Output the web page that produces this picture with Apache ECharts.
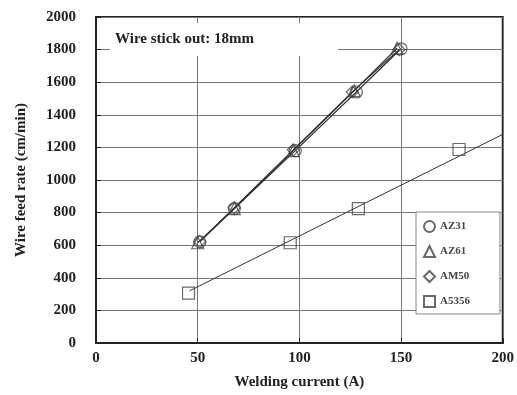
<!DOCTYPE html>
<html>
<head>
<meta charset="utf-8">
<script src="https://cdn.jsdelivr.net/npm/echarts@6/dist/echarts.min.js"></script>
<style>html,body{margin:0;padding:0;background:#fff}#c{width:517px;height:395px}</style>
</head>
<body>
<div id="c"></div>
<script>
// Data (Welding current A, Wire feed rate cm/min)
var seriesNames = ['AZ31', 'AZ61', 'AM50', 'A5356'];
var az31 = [[51, 620], [68, 825], [98, 1180], [128, 1540], [150, 1805]];
var az61 = [[50, 615], [68, 825], [97, 1180], [127, 1548], [148, 1808]];
var am50 = [[51, 622], [68, 830], [97, 1185], [126, 1540], [149, 1800]];
var a5356 = [[45.5, 306], [95.5, 615], [129, 825], [178.5, 1187]];
var a5356TrendX = [46, 200];
var a5356TrendY = [320, 1280];
var xTicks = [0, 50, 100, 150, 200];
var yTicks = [0, 200, 400, 600, 800, 1000, 1200, 1400, 1600, 1800, 2000];
var noteText = 'Wire stick out: 18mm';

var serif = 'Liberation Serif, DejaVu Serif, serif';
var ink = '#222';
var markerStyle = { color: 'transparent', borderColor: '#444', borderWidth: 1.2 };

function trend(xs, ys) { return xs.map(function (x, i) { return [x, ys[i]]; }); }

function lineSeries(data) {
  return { type: 'line', data: data, showSymbol: false, silent: true, z: 2,
    lineStyle: { color: '#333', width: 1.2 } };
}
function scatterSeries(name, data, symbol) {
  return { type: 'scatter', name: name, data: data, symbol: symbol, symbolSize: 12, z: 3,
    itemStyle: markerStyle };
}

var chart = echarts.init(document.getElementById('c'), null, { renderer: 'canvas' });
chart.setOption({
  animation: false,
  backgroundColor: '#fff',
  title: {
    text: noteText, left: 110, top: 23,
    backgroundColor: '#fff', padding: [9, 84, 9, 5],
    textStyle: { fontFamily: serif, fontWeight: 'bold', fontSize: 15, color: ink }
  },
  legend: {
    orient: 'vertical', left: 416, top: 212,
    data: seriesNames.map(function (n) { return n; }),
    itemWidth: 11, itemHeight: 11, itemGap: 12,
    padding: [8, 30, 6, 7],
    backgroundColor: '#fff', borderColor: '#888', borderWidth: 1,
    textStyle: { fontFamily: serif, fontWeight: 'bold', fontSize: 11, color: '#444' }
  },
  grid: { left: 96, right: 11, top: 17, bottom: 50, show: true, borderColor: '#222', borderWidth: 2 },
  xAxis: {
    type: 'value', min: xTicks[0], max: xTicks[xTicks.length - 1], interval: 50,
    name: 'Welding current (A)', nameLocation: 'middle', nameGap: 32,
    nameTextStyle: { fontFamily: serif, fontWeight: 'bold', fontSize: 15, color: ink },
    axisLine: { lineStyle: { color: '#222', width: 2 } },
    axisTick: { inside: true, length: 5, lineStyle: { color: '#222' } },
    axisLabel: { fontFamily: serif, fontWeight: 'bold', fontSize: 15, color: ink, margin: 8 },
    splitLine: { show: true, lineStyle: { color: '#777', width: 1 } }
  },
  yAxis: {
    type: 'value', min: yTicks[0], max: yTicks[yTicks.length - 1], interval: 200,
    name: 'Wire feed rate (cm/min)', nameLocation: 'middle', nameGap: 67,
    nameTextStyle: { fontFamily: serif, fontWeight: 'bold', fontSize: 15, color: ink },
    axisLine: { lineStyle: { color: '#222', width: 2 } },
    axisTick: { inside: true, length: 5, lineStyle: { color: '#222' } },
    axisLabel: { fontFamily: serif, fontWeight: 'bold', fontSize: 15, color: ink, margin: 20,
      formatter: function (v) { return String(v); } },
    splitLine: { show: true, lineStyle: { color: '#777', width: 1 } }
  },
  series: [
    lineSeries(az31), lineSeries(az61), lineSeries(am50),
    { type: 'line', data: trend(a5356TrendX, a5356TrendY), showSymbol: false, silent: true, z: 2,
      lineStyle: { color: '#333', width: 1 } },
    scatterSeries(seriesNames[0], az31, 'circle'),
    scatterSeries(seriesNames[1], az61, 'triangle'),
    scatterSeries(seriesNames[2], am50, 'diamond'),
    scatterSeries(seriesNames[3], a5356, 'rect')
  ]
});
</script>
</body>
</html>
